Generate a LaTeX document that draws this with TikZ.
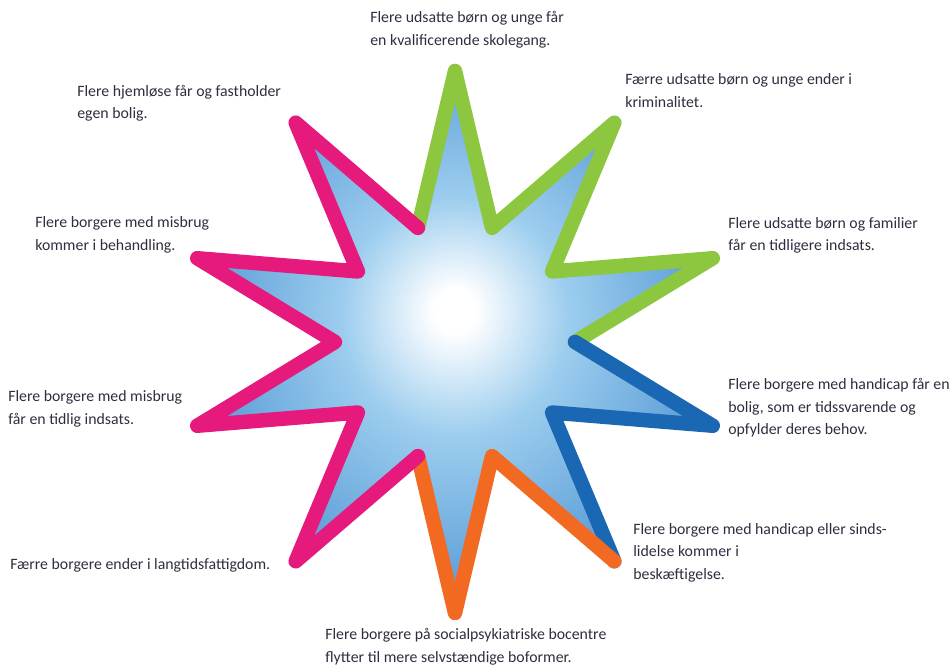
\documentclass[tikz,border=0pt]{standalone}
\usepackage{fontspec}
\setmainfont{Carlito}
\usepackage{tikz}
\usetikzlibrary{calc}
\definecolor{starlime}{HTML}{8DC63F}
\definecolor{starpink}{HTML}{E6197D}
\definecolor{starblue}{HTML}{1A68B3}
\definecolor{starorange}{HTML}{F26A21}
\definecolor{starsky}{HTML}{9CCDEE}
\definecolor{stardeep}{HTML}{4C92D2}
\definecolor{goaltext}{HTML}{2E2E40}
\pgfdeclareradialshading{starglow}{\pgfpoint{0bp}{3bp}}{color(0bp)=(white);color(2bp)=(white);color(11bp)=(starsky);color(28bp)=(stardeep);color(50bp)=(stardeep)}
\tikzset{goal/.style={anchor=west, align=left, inner sep=0pt, text=goaltext, font=\fontsize{9}{12.8}\selectfont}}
\tikzset{rim/.style={line width=0.29cm, line join=round, line cap=round}}

\begin{document}
\begin{tikzpicture}
\useasboundingbox (0,0) rectangle (19.04,13.34);
\coordinate (c) at (9.1,6.5);
\foreach \k in {0,...,9} {
  \coordinate (tip\k) at ($(c)+({90-36*\k}:5.42)$);
  \coordinate (dip\k) at ($(c)+({72-36*\k}:2.4)$);
}
\shade[shading=starglow] (tip0) \foreach \k in {0,...,9}{ -- (tip\k) -- (dip\k)} -- cycle;
\draw[rim, starlime] (dip9) -- (tip0) -- (dip0) -- (tip1) -- (dip1) -- (tip2) -- (dip2);
\draw[rim, starblue] (dip2) -- (tip3) -- (dip3) -- (tip4);
\draw[rim, starorange] (tip4) -- (dip4) -- (tip5) -- (dip5);
\draw[rim, starpink] (dip5) -- (tip6) -- (dip6) -- (tip7) -- (dip7) -- (tip8) -- (dip8) -- (tip9) -- (dip9);
% goals round the star
\node[goal] (skole) at (7.40,12.74) {Flere udsatte børn og unge får\\en kvalificerende skolegang.};
\node[goal] (krimi) at (12.50,11.53) {Færre udsatte børn og unge ender i\\kriminalitet.};
\node[goal] (bolig) at (1.54,11.27) {Flere hjemløse får og fastholder\\egen bolig.};
\node[goal] (behandling) at (0.70,8.64) {Flere borgere med misbrug\\kommer i behandling.};
\node[goal] (familie) at (14.56,8.63) {Flere udsatte børn og familier\\får en tidligere indsats.};
\node[goal] (handicap) at (14.56,5.18) {Flere borgere med handicap får en\\bolig, som er tidssvarende og\\opfylder deres behov.};
\node[goal] (misbrug) at (0.16,5.16) {Flere borgere med misbrug\\får en tidlig indsats.};
\node[goal] (job) at (12.66,2.29) {Flere borgere med handicap eller sinds-\\lidelse kommer i\\beskæftigelse.};
\node[goal] (fattig) at (0.20,2.04) {Færre borgere ender i langtidsfattigdom.};
\node[goal] (bocenter) at (6.50,0.40) {Flere borgere på socialpsykiatriske bocentre\\flytter til mere selvstændige boformer.};
\end{tikzpicture}
\end{document}
